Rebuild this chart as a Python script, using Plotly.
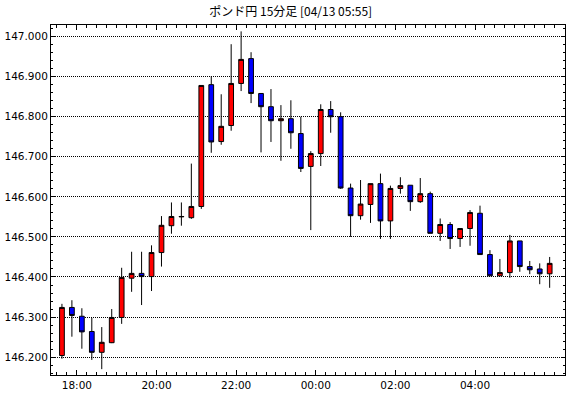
import pandas as pd
import plotly.graph_objects as go

# 15-minute candles, start times 2023-04-12 17:30 .. 2023-04-13 05:45
start_time = "2023-04-12 17:30"
n_bars = 50

opens = [146.204, 146.324, 146.302, 146.264, 146.212, 146.236, 146.299, 146.397, 146.409, 146.401,
         146.461, 146.528, 146.550, 146.548, 146.576, 146.880, 146.738, 146.778, 146.883, 146.945,
         146.858, 146.825, 146.790, 146.795, 146.758, 146.676, 146.708, 146.818, 146.800, 146.622,
         146.553, 146.581, 146.633, 146.540, 146.621, 146.629, 146.588, 146.608, 146.509, 146.531,
         146.496, 146.521, 146.559, 146.456, 146.403, 146.411, 146.490, 146.426, 146.420, 146.408]
highs = [146.333, 146.342, 146.322, 146.298, 146.275, 146.320, 146.423, 146.463, 146.463, 146.479,
         146.552, 146.586, 146.586, 146.683, 146.878, 146.901, 146.856, 146.981, 147.013, 146.961,
         146.858, 146.869, 146.829, 146.841, 146.800, 146.714, 146.831, 146.839, 146.811, 146.633,
         146.642, 146.633, 146.658, 146.628, 146.649, 146.629, 146.647, 146.613, 146.546, 146.537,
         146.521, 146.567, 146.578, 146.467, 146.445, 146.505, 146.490, 146.440, 146.434, 146.450]
lows = [146.196, 146.251, 146.221, 146.193, 146.170, 146.235, 146.283, 146.363, 146.330, 146.365,
        146.426, 146.508, 146.528, 146.545, 146.570, 146.710, 146.730, 146.765, 146.864, 146.834,
        146.711, 146.737, 146.690, 146.720, 146.662, 146.517, 146.677, 146.760, 146.620, 146.500,
        146.543, 146.535, 146.495, 146.495, 146.608, 146.565, 146.585, 146.509, 146.490, 146.470,
        146.475, 146.478, 146.456, 146.403, 146.403, 146.398, 146.413, 146.407, 146.382, 146.373]
closes = [146.324, 146.304, 146.263, 146.212, 146.237, 146.299, 146.399, 146.409, 146.401, 146.461,
          146.529, 146.551, 146.551, 146.576, 146.878, 146.737, 146.776, 146.883, 146.943, 146.858,
          146.825, 146.790, 146.795, 146.760, 146.671, 146.708, 146.818, 146.800, 146.622, 146.553,
          146.582, 146.633, 146.540, 146.621, 146.628, 146.588, 146.608, 146.509, 146.531, 146.496,
          146.521, 146.561, 146.456, 146.403, 146.411, 146.490, 146.426, 146.418, 146.408, 146.434]

title_text = "ポンド円 15分足 [04/13 05:55]"
x_tick_labels = ["18:00", "20:00", "22:00", "00:00", "02:00", "04:00"]
x_tick_times = ["2023-04-12 18:00", "2023-04-12 20:00", "2023-04-12 22:00",
                "2023-04-13 00:00", "2023-04-13 02:00", "2023-04-13 04:00"]
y_range = [146.1554, 147.0289]
x_range = ["2023-04-12 17:21:00", "2023-04-13 06:15:36"]

starts = pd.date_range(start_time, periods=n_bars, freq="15min")
centers = starts + pd.Timedelta(minutes=7.5)

fig = go.Figure(go.Candlestick(
    x=centers, open=opens, high=highs, low=lows, close=closes,
    increasing=dict(line=dict(color="black", width=1), fillcolor="#FF0000"),
    decreasing=dict(line=dict(color="black", width=1), fillcolor="#0000FF"),
    whiskerwidth=0, hoverinfo="skip", showlegend=False,
))

fig.update_layout(
    width=570, height=398,
    margin=dict(l=49, r=4, t=25, b=23),
    paper_bgcolor="white", plot_bgcolor="white",
    boxgap=0.32,
    title=dict(text=title_text, x=0.51, xref="container", xanchor="center",
               y=0.97, yref="container", yanchor="middle",
               font=dict(family="Noto Sans CJK JP", size=12, color="black")),
    font=dict(family="DejaVu Sans", size=10.5, color="black"),
)

fig.update_xaxes(
    type="date", range=x_range, rangeslider_visible=False,
    tickmode="array", tickvals=x_tick_times, ticktext=x_tick_labels,
    ticks="inside", ticklen=5, tickcolor="black", tickwidth=1,
    showline=True, linecolor="black", linewidth=1, mirror="ticks",
    showgrid=False, zeroline=False,
    minor=dict(dtick=15 * 60 * 1000, tick0="2023-04-12 18:00", ticks="inside",
               ticklen=3, tickcolor="black", showgrid=False),
)
fig.update_yaxes(
    range=y_range, dtick=0.1, tick0=146.0, tickformat=".3f",
    ticks="inside", ticklen=4, tickcolor="black", tickwidth=1,
    showline=True, linecolor="black", linewidth=1, mirror="ticks",
    showgrid=True, gridcolor="black", gridwidth=1, griddash="1px,1px",
    zeroline=False,
    minor=dict(dtick=0.02, tick0=146.0, ticks="inside", ticklen=2,
               tickcolor="black", showgrid=False),
)

fig.write_html("out.html")
